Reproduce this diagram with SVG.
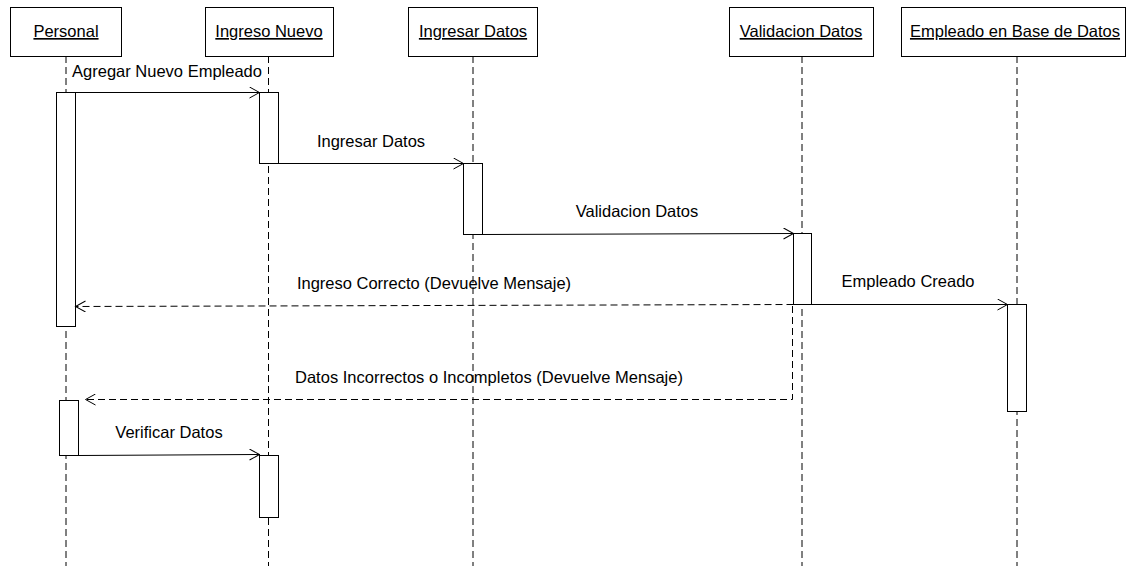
<svg xmlns="http://www.w3.org/2000/svg" width="1130" height="566" viewBox="0 0 1130 566">
<style>
.hdr{fill:#fff;stroke:#000;stroke-width:1}
.ht{font-family:"Liberation Sans",Arial,sans-serif;font-size:16.5px;text-anchor:middle;text-decoration:underline;fill:#000}
.life{stroke:#000;stroke-width:1;stroke-dasharray:7,4;fill:none}
.act{fill:#fff;stroke:#000;stroke-width:1}
.msg{stroke:#000;stroke-width:1;fill:none}
.ret{stroke:#000;stroke-width:1;stroke-dasharray:7,4;fill:none}
.lbl{font-family:"Liberation Sans",Arial,sans-serif;font-size:16.5px;text-anchor:middle;fill:#000}
</style>
<defs>
<marker id="open" markerWidth="12" markerHeight="12" refX="11" refY="6" orient="auto" markerUnits="userSpaceOnUse">
<path d="M1,0.5 L11,6 L1,11.5" fill="none" stroke="#000" stroke-width="1"/>
</marker>
</defs>
<rect width="1130" height="566" fill="#fff"/>
<g id="lifelines">
<line class="life" x1="66" y1="56" x2="66" y2="566"/>
<line class="life" x1="268.500" y1="56" x2="268.500" y2="566"/>
<line class="life" x1="473" y1="56" x2="473" y2="566"/>
<line class="life" x1="802" y1="56" x2="802" y2="566"/>
<line class="life" x1="1017" y1="56" x2="1017" y2="566"/>
</g>
<g id="personal"><rect class="hdr" x="10.500" y="7.500" width="111" height="49"/><text class="ht" x="66" y="37">Personal</text></g>
<g id="ingreso-nuevo"><rect class="hdr" x="205.500" y="7.500" width="128" height="49"/><text class="ht" x="269" y="37">Ingreso Nuevo</text></g>
<g id="ingresar-datos"><rect class="hdr" x="408.500" y="7.500" width="129" height="49"/><text class="ht" x="473" y="37">Ingresar Datos</text></g>
<g id="validacion-datos"><rect class="hdr" x="729.500" y="7.500" width="144" height="49"/><text class="ht" x="801" y="37">Validacion Datos</text></g>
<g id="empleado-bd"><rect class="hdr" x="901.500" y="7.500" width="224" height="49"/><text class="ht" x="1015" y="37">Empleado en Base de Datos</text></g>
<g id="activations">
<rect class="act" x="56.500" y="92.500" width="19" height="234"/>
<rect class="act" x="259.500" y="92.500" width="19" height="71"/>
<rect class="act" x="463.500" y="163.500" width="19" height="71"/>
<rect class="act" x="793.500" y="233.500" width="18" height="71"/>
<rect class="act" x="1007.500" y="304.500" width="19" height="107"/>
<rect class="act" x="59.500" y="400.500" width="19" height="55"/>
<rect class="act" x="259.500" y="455.500" width="19" height="62"/>
</g>
<g id="connectors">
<line class="msg" x1="75.500" y1="92.500" x2="259.500" y2="92.500" marker-end="url(#open)"/>
<text class="lbl" x="167" y="77">Agregar Nuevo Empleado</text>
<line class="msg" x1="278.500" y1="163.500" x2="463.500" y2="163.500" marker-end="url(#open)"/>
<text class="lbl" x="371" y="147">Ingresar Datos</text>
<line class="msg" x1="482.500" y1="234.500" x2="793.500" y2="233.500" marker-end="url(#open)"/>
<text class="lbl" x="637" y="217">Validacion Datos</text>
<line class="msg" x1="811.500" y1="304.500" x2="1007.500" y2="304.500" marker-end="url(#open)"/>
<text class="lbl" x="908" y="287">Empleado Creado</text>
<line class="ret" x1="793.500" y1="304.500" x2="75.500" y2="306.500" marker-end="url(#open)"/>
<text class="lbl" x="434" y="289">Ingreso Correcto (Devuelve Mensaje)</text>
<polyline class="ret" points="792.500,306 792.500,399.500 85.500,399.500" marker-end="url(#open)"/>
<text class="lbl" x="489" y="383">Datos Incorrectos o Incompletos (Devuelve Mensaje)</text>
<line class="msg" x1="78.500" y1="455.500" x2="259.500" y2="454.500" marker-end="url(#open)"/>
<text class="lbl" x="169" y="438">Verificar Datos</text>
</g>
</svg>
